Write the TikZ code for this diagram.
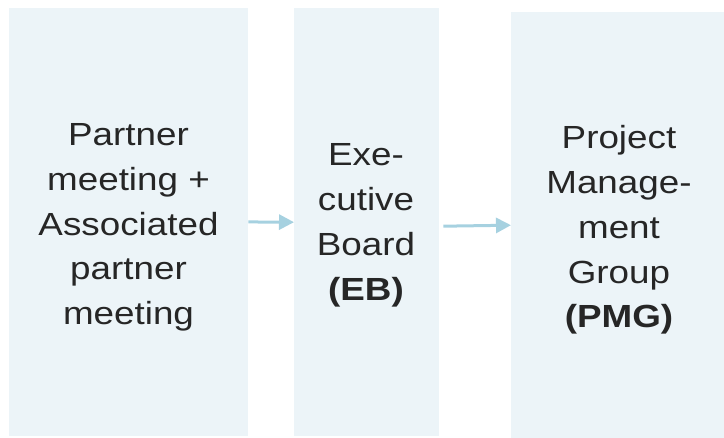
\documentclass[tikz,border=0pt]{standalone}
\usepackage{fontspec}
\setmainfont[FakeStretch=1.15]{Liberation Sans}
\usetikzlibrary{arrows.meta}
\definecolor{boxfill}{RGB}{236,244,248}
\definecolor{arrowblue}{RGB}{166,209,224}
\definecolor{txt}{RGB}{38,38,38}
\tikzset{
  box/.style={anchor=north west, inner sep=0pt, fill=boxfill, draw=none},
  lbl/.style={align=center, inner sep=0pt, text=txt,
    font=\fontsize{32}{44.75}\selectfont},
  arr/.style={draw=arrowblue, line width=3pt,
    -{Triangle[length=15pt,width=15pt]}}
}
\begin{document}
\begin{tikzpicture}[x=1pt,y=-1pt]
\useasboundingbox (0,0) rectangle (724,438);
\node[box, minimum width=239pt, minimum height=427.5pt] (b1) at (9,8) {};
\node[box, minimum width=145pt, minimum height=428pt] (b2) at (294,8) {};
\node[box, minimum width=213pt, minimum height=426pt] (b3) at (511,12) {};
\node[lbl] (t1) at (128.5,227.4) {Partner\\meeting +\\Associated\\partner\\meeting};
\node[lbl] (t2) at (366,225.4) {Exe-\\cutive\\Board\\\textbf{(EB)}};
\node[lbl] (t3) at (619,230) {Project\\Manage-\\ment\\Group\\\textbf{(PMG)}};
\draw[arr] (b1.east) -- (b2.west);
\draw[arr] ([xshift=4pt,yshift=-4pt]b2.east) -- (b3.west);
\end{tikzpicture}
\end{document}
